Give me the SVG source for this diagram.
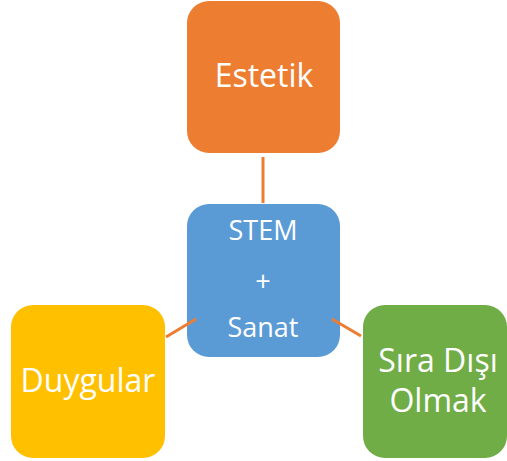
<svg xmlns="http://www.w3.org/2000/svg" width="507" height="461" viewBox="0 0 507 461">
<style>
.box{stroke:none}
.t{font-family:"Open Sans","Noto Sans","Liberation Sans",sans-serif;fill:#fff;text-anchor:middle}
.big{font-size:32px}
.mid{font-size:27px}
.c{stroke:#ED7D31;stroke-width:3;fill:none}
</style>
<rect width="507" height="461" fill="#fff"/>
<g id="estetik">
<rect class="box" x="187" y="1" width="153" height="152" rx="22" fill="#ED7D31"/>
<text class="t big" x="264" y="87">Estetik</text>
</g>
<g id="stem">
<rect class="box" x="187" y="204" width="153" height="153" rx="22" fill="#5B9BD5"/>
<text class="t mid" x="263" y="240">STEM</text>
<text class="t mid" x="263" y="291">+</text>
<text class="t mid" x="263" y="337">Sanat</text>
</g>
<g id="duygular">
<rect class="box" x="11" y="305" width="154" height="153" rx="22" fill="#FFC000"/>
<text class="t big" x="88" y="392">Duygular</text>
</g>
<g id="siradisi">
<rect class="box" x="363" y="305" width="144" height="153" rx="22" fill="#70AD47"/>
<text class="t big" x="438" y="372">Sıra Dışı</text>
<text class="t big" x="438" y="412">Olmak</text>
</g>
<g id="connectors">
<line class="c" x1="263" y1="157" x2="263" y2="203"/>
<line class="c" x1="166" y1="337" x2="196" y2="319"/>
<line class="c" x1="332" y1="319" x2="361" y2="336"/>
</g>
</svg>
